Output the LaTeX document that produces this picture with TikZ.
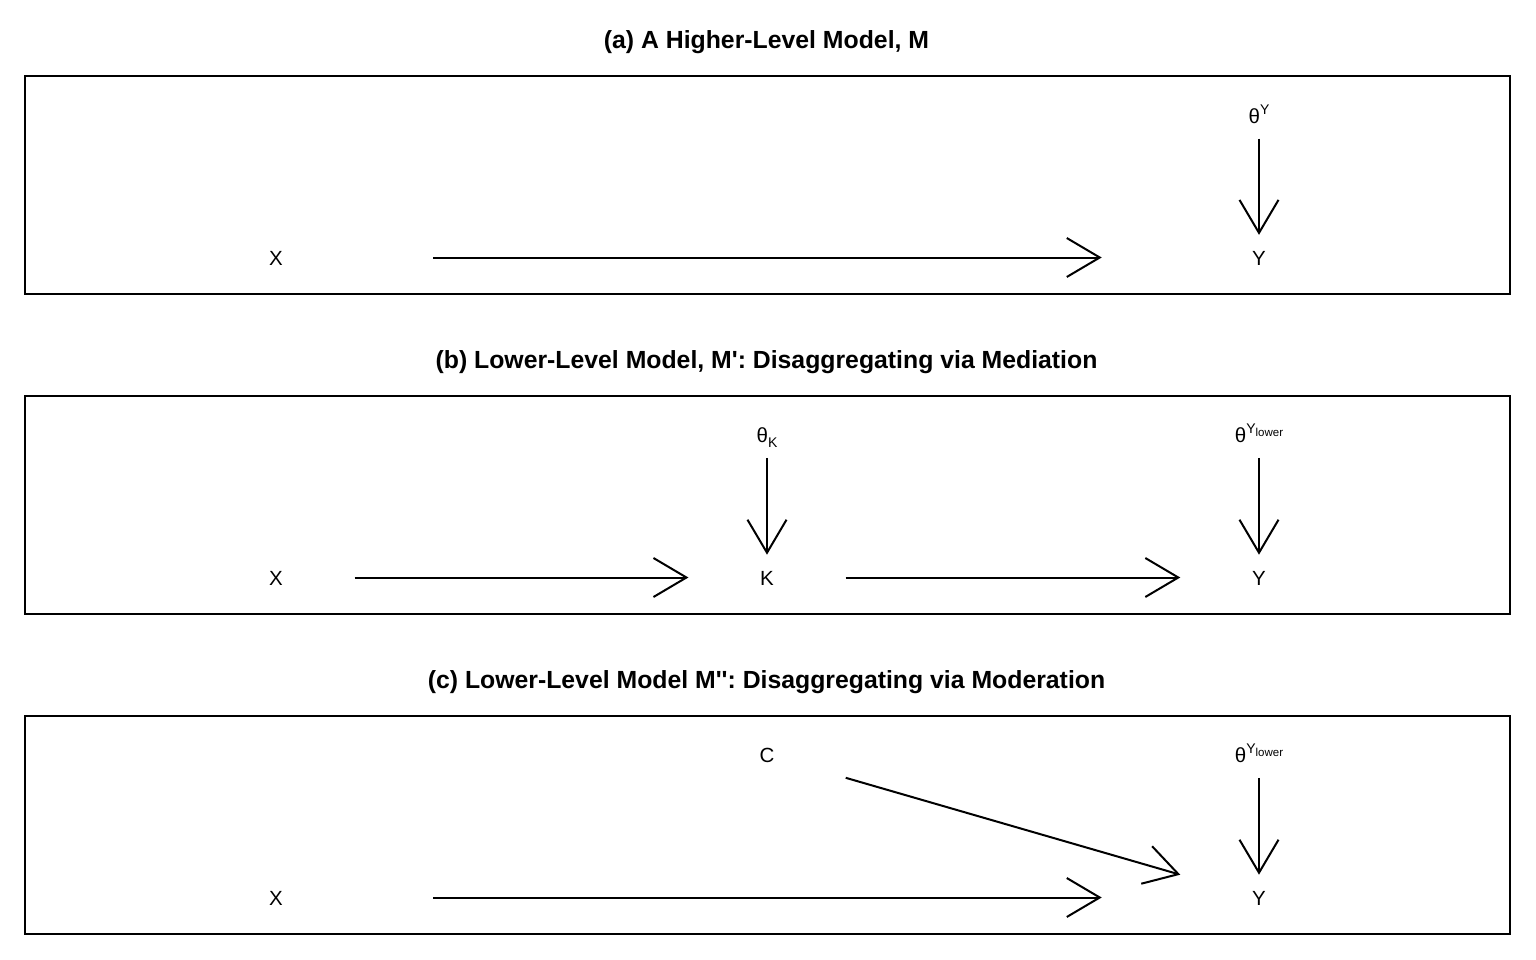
\documentclass[tikz,border=0pt]{standalone}
\usepackage{fontspec}
\setmainfont{Liberation Sans}[Ligatures=TeXOff]
\usetikzlibrary{arrows.meta,calc}
\newcommand{\lblfont}{\fontsize{20.5}{24}\selectfont}
\newcommand{\scrfont}{\fontsize{14}{16}\selectfont}
\newcommand{\sscrfont}{\fontsize{11.5}{13}\selectfont}
\newcommand{\ttlfont}{\fontsize{24.8}{28}\selectfont\bfseries}
\begin{document}
\begin{tikzpicture}[x=1pt,y=-1pt,
  lbl/.style={inner sep=0pt,outer sep=0pt,text height=15pt,text depth=0pt,font=\lblfont},
  ttl/.style={inner sep=0pt,anchor=base,font=\ttlfont},
  panel/.style={draw=black,line width=2pt},
  edge/.style={draw=black,line width=2pt,-{Straight Barb[length=33pt,width=39pt,line width=2pt]}}]
\useasboundingbox (0,0) rectangle (1536,960);
\fill[white] (0,0) rectangle (1536,960);
\newcommand{\edgeab}[2]{\draw[edge] ($(#1)!0.16!(#2)$) -- ($(#1)!0.84!(#2)$);}
% ---- panel (a)
\node[ttl] (ta) at (766.5,48.8) {(a) A Higher-Level Model, M};
\draw[panel] (25,76) rectangle (1510,294);
\node[lbl] (aX) at (276,257.5) {X};
\node[lbl] (aY) at (1259,257.5) {Y};
\node[lbl] (aT) at (1259,116) {θ\raisebox{0.45em}{\scrfont Y}};
\edgeab{aX}{aY}
\edgeab{aT}{aY}
% ---- panel (b)
\node[ttl] (tb) at (766.5,368.8) {(b) Lower-Level Model, M': Disaggregating via Mediation};
\draw[panel] (25,396) rectangle (1510,614);
\node[lbl] (bX) at (276,577.5) {X};
\node[lbl] (bK) at (767,577.5) {K};
\node[lbl] (bY) at (1259,577.5) {Y};
\node[lbl] (bTK) at (767,435) {θ\raisebox{-0.22em}{\scrfont K}};
\node[lbl] (bTY) at (1259,435) {θ\raisebox{0.45em}{\scrfont Y\raisebox{-0.2em}{\sscrfont lower}}};
\edgeab{bX}{bK}
\edgeab{bK}{bY}
\edgeab{bTK}{bK}
\edgeab{bTY}{bY}
% ---- panel (c)
\node[ttl] (tc) at (766.5,688.8) {(c) Lower-Level Model M'': Disaggregating via Moderation};
\draw[panel] (25,716) rectangle (1510,934);
\node[lbl] (cX) at (276,897.5) {X};
\node[lbl] (cC) at (767,755) {C};
\node[lbl] (cY) at (1259,897.5) {Y};
\node[lbl] (cTY) at (1259,755) {θ\raisebox{0.45em}{\scrfont Y\raisebox{-0.2em}{\sscrfont lower}}};
\edgeab{cX}{cY}
\edgeab{cC}{cY}
\edgeab{cTY}{cY}
\end{tikzpicture}
\end{document}
